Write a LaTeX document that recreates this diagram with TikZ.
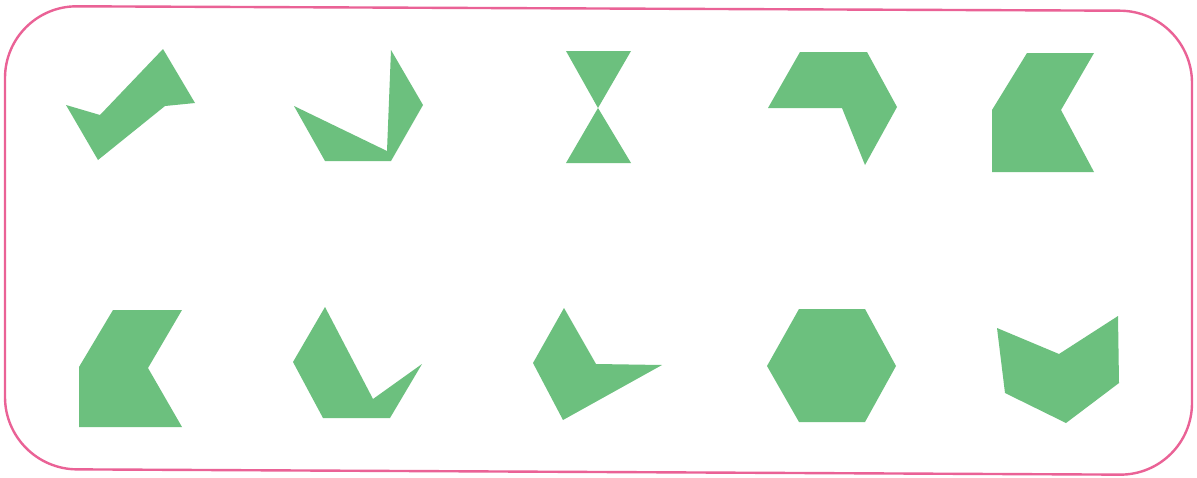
\documentclass[tikz,border=0pt]{standalone}
\definecolor{shapegreen}{RGB}{108,192,126}
\definecolor{framepink}{RGB}{234,98,150}
\tikzset{piece/.style={fill=shapegreen,draw=none},
  frameline/.style={draw=framepink,line width=2.4pt,rounded corners=72pt}}
\begin{document}
\begin{tikzpicture}[x=1pt,y=-1pt]
\useasboundingbox (0,0) rectangle (1197,477);
\fill[white] (0,0) rectangle (1197,477);
% frame
\draw[frameline] (5,6) -- (1192,11) -- (1192,475) -- (5,469) -- cycle;
% row 1
\fill[piece] (66,105) -- (100,115) -- (163,49) -- (195,103) -- (165,106) -- (98,160) -- cycle;
\fill[piece] (294,106) -- (387,151) -- (391,50) -- (423,105) -- (391,161) -- (325,161) -- cycle;
\fill[piece] (566,51) -- (631,51) -- (598,108) -- (631,163) -- (566,163) -- (598,108) -- cycle;
\fill[piece] (800,52) -- (867,52) -- (897,107) -- (865,165) -- (842,108) -- (768,108) -- cycle;
\fill[piece] (1027,53) -- (1094,53) -- (1061,110) -- (1094,172) -- (992,172) -- (992,110) -- cycle;
% row 2
\fill[piece] (113,310) -- (182,310) -- (148,368) -- (182,427) -- (79,427) -- (79,367) -- cycle;
\fill[piece] (325,307) -- (373,399) -- (422,364) -- (390,418) -- (323,418) -- (293,362) -- cycle;
\fill[piece] (564,308) -- (596,364) -- (662,365) -- (563,420) -- (533,363) -- cycle;
\fill[piece] (799,309) -- (865,309) -- (896,366) -- (865,422) -- (799,422) -- (767,366) -- cycle;
\fill[piece] (997,328) -- (1059,354) -- (1118,316) -- (1119,383) -- (1066,423) -- (1005,393) -- cycle;
\end{tikzpicture}
\end{document}
